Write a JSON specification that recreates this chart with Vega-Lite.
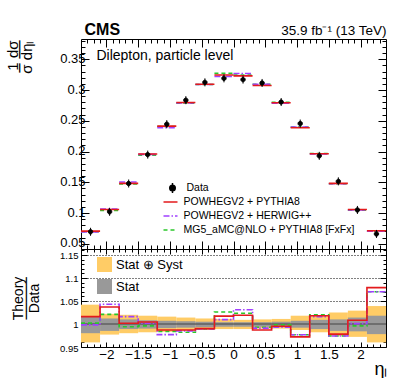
{
  "$schema": "https://vega.github.io/schema/vega-lite/v6.json",
  "padding": {"left": 5, "top": 21, "right": 0, "bottom": 0},
  "spacing": 0,
  "bounds": "flush",
  "config": {
    "font": "Liberation Sans",
    "view": {"stroke": null},
    "axis": {"domainColor": "black", "tickColor": "black", "labelColor": "black", "titleColor": "black", "grid": false, "titleFontWeight": "normal", "domainWidth": 1, "tickWidth": 1},
    "legend": {"labelColor": "black", "labelFont": "Liberation Sans"}
  },
  "datasets": {
    "bins": [
      {"lo": -2.4, "hi": -2.1, "c": -2.25, "d": 0.0695, "k": "Data"},
      {"lo": -2.1, "hi": -1.8, "c": -1.95, "d": 0.102, "k": "Data"},
      {"lo": -1.8, "hi": -1.5, "c": -1.65, "d": 0.148, "k": "Data"},
      {"lo": -1.5, "hi": -1.2, "c": -1.35, "d": 0.195, "k": "Data"},
      {"lo": -1.2, "hi": -0.9, "c": -1.05, "d": 0.2445, "k": "Data"},
      {"lo": -0.9, "hi": -0.6, "c": -0.75, "d": 0.2835, "k": "Data"},
      {"lo": -0.6, "hi": -0.3, "c": -0.45, "d": 0.3125, "k": "Data"},
      {"lo": -0.3, "hi": 0.0, "c": -0.15, "d": 0.319, "k": "Data"},
      {"lo": 0.0, "hi": 0.3, "c": 0.15, "d": 0.317, "k": "Data"},
      {"lo": 0.3, "hi": 0.6, "c": 0.45, "d": 0.3115, "k": "Data"},
      {"lo": 0.6, "hi": 0.9, "c": 0.75, "d": 0.2805, "k": "Data"},
      {"lo": 0.9, "hi": 1.2, "c": 1.05, "d": 0.2455, "k": "Data"},
      {"lo": 1.2, "hi": 1.5, "c": 1.35, "d": 0.193, "k": "Data"},
      {"lo": 1.5, "hi": 1.8, "c": 1.65, "d": 0.1515, "k": "Data"},
      {"lo": 1.8, "hi": 2.1, "c": 1.95, "d": 0.105, "k": "Data"},
      {"lo": 2.1, "hi": 2.4, "c": 2.25, "d": 0.066, "k": "Data"}
    ],
    "bands": [
      {"lo": -2.4, "hi": -2.1, "band": "Stat ⊕ Syst", "bl": 0.960, "bu": 1.042},
      {"lo": -2.1, "hi": -1.8, "band": "Stat ⊕ Syst", "bl": 0.977, "bu": 1.022},
      {"lo": -1.8, "hi": -1.5, "band": "Stat ⊕ Syst", "bl": 0.980, "bu": 1.020},
      {"lo": -1.5, "hi": -1.2, "band": "Stat ⊕ Syst", "bl": 0.982, "bu": 1.018},
      {"lo": -1.2, "hi": -0.9, "band": "Stat ⊕ Syst", "bl": 0.983, "bu": 1.016},
      {"lo": -0.9, "hi": -0.6, "band": "Stat ⊕ Syst", "bl": 0.985, "bu": 1.014},
      {"lo": -0.6, "hi": -0.3, "band": "Stat ⊕ Syst", "bl": 0.987, "bu": 1.012},
      {"lo": -0.3, "hi": 0.0, "band": "Stat ⊕ Syst", "bl": 0.989, "bu": 1.011},
      {"lo": 0.0, "hi": 0.3, "band": "Stat ⊕ Syst", "bl": 0.989, "bu": 1.009},
      {"lo": 0.3, "hi": 0.6, "band": "Stat ⊕ Syst", "bl": 0.990, "bu": 1.010},
      {"lo": 0.6, "hi": 0.9, "band": "Stat ⊕ Syst", "bl": 0.990, "bu": 1.011},
      {"lo": 0.9, "hi": 1.2, "band": "Stat ⊕ Syst", "bl": 0.987, "bu": 1.018},
      {"lo": 1.2, "hi": 1.5, "band": "Stat ⊕ Syst", "bl": 0.982, "bu": 1.019},
      {"lo": 1.5, "hi": 1.8, "band": "Stat ⊕ Syst", "bl": 0.974, "bu": 1.025},
      {"lo": 1.8, "hi": 2.1, "band": "Stat ⊕ Syst", "bl": 0.972, "bu": 1.029},
      {"lo": 2.1, "hi": 2.4, "band": "Stat ⊕ Syst", "bl": 0.960, "bu": 1.039},
      {"lo": -2.4, "hi": -2.1, "band": "Stat", "bl": 0.980, "bu": 1.017},
      {"lo": -2.1, "hi": -1.8, "band": "Stat", "bl": 0.985, "bu": 1.012},
      {"lo": -1.8, "hi": -1.5, "band": "Stat", "bl": 0.989, "bu": 1.010},
      {"lo": -1.5, "hi": -1.2, "band": "Stat", "bl": 0.990, "bu": 1.008},
      {"lo": -1.2, "hi": -0.9, "band": "Stat", "bl": 0.991, "bu": 1.007},
      {"lo": -0.9, "hi": -0.6, "band": "Stat", "bl": 0.992, "bu": 1.006},
      {"lo": -0.6, "hi": -0.3, "band": "Stat", "bl": 0.993, "bu": 1.005},
      {"lo": -0.3, "hi": 0.0, "band": "Stat", "bl": 0.994, "bu": 1.004},
      {"lo": 0.0, "hi": 0.3, "band": "Stat", "bl": 0.994, "bu": 1.004},
      {"lo": 0.3, "hi": 0.6, "band": "Stat", "bl": 0.994, "bu": 1.004},
      {"lo": 0.6, "hi": 0.9, "band": "Stat", "bl": 0.994, "bu": 1.005},
      {"lo": 0.9, "hi": 1.2, "band": "Stat", "bl": 0.992, "bu": 1.007},
      {"lo": 1.2, "hi": 1.5, "band": "Stat", "bl": 0.989, "bu": 1.009},
      {"lo": 1.5, "hi": 1.8, "band": "Stat", "bl": 0.985, "bu": 1.010},
      {"lo": 1.8, "hi": 2.1, "band": "Stat", "bl": 0.984, "bu": 1.014},
      {"lo": 2.1, "hi": 2.4, "band": "Stat", "bl": 0.978, "bu": 1.018}
    ],
    "theory": [
      {"lo": -2.4, "hi": -2.1, "m": "MG5_aMC@NLO + PYTHIA8 [FxFx]", "v": 0.0696, "r": 1.002},
      {"lo": -2.1, "hi": -1.8, "m": "MG5_aMC@NLO + PYTHIA8 [FxFx]", "v": 0.1041, "r": 1.021},
      {"lo": -1.8, "hi": -1.5, "m": "MG5_aMC@NLO + PYTHIA8 [FxFx]", "v": 0.1471, "r": 0.994},
      {"lo": -1.5, "hi": -1.2, "m": "MG5_aMC@NLO + PYTHIA8 [FxFx]", "v": 0.1942, "r": 0.996},
      {"lo": -1.2, "hi": -0.9, "m": "MG5_aMC@NLO + PYTHIA8 [FxFx]", "v": 0.2406, "r": 0.984},
      {"lo": -0.9, "hi": -0.6, "m": "MG5_aMC@NLO + PYTHIA8 [FxFx]", "v": 0.2784, "r": 0.982},
      {"lo": -0.6, "hi": -0.3, "m": "MG5_aMC@NLO + PYTHIA8 [FxFx]", "v": 0.3091, "r": 0.989},
      {"lo": -0.3, "hi": 0.0, "m": "MG5_aMC@NLO + PYTHIA8 [FxFx]", "v": 0.3273, "r": 1.026},
      {"lo": 0.0, "hi": 0.3, "m": "MG5_aMC@NLO + PYTHIA8 [FxFx]", "v": 0.3244, "r": 1.0235},
      {"lo": 0.3, "hi": 0.6, "m": "MG5_aMC@NLO + PYTHIA8 [FxFx]", "v": 0.3093, "r": 0.993},
      {"lo": 0.6, "hi": 0.9, "m": "MG5_aMC@NLO + PYTHIA8 [FxFx]", "v": 0.2799, "r": 0.998},
      {"lo": 0.9, "hi": 1.2, "m": "MG5_aMC@NLO + PYTHIA8 [FxFx]", "v": 0.2397, "r": 0.9765},
      {"lo": 1.2, "hi": 1.5, "m": "MG5_aMC@NLO + PYTHIA8 [FxFx]", "v": 0.1969, "r": 1.020},
      {"lo": 1.5, "hi": 1.8, "m": "MG5_aMC@NLO + PYTHIA8 [FxFx]", "v": 0.1476, "r": 0.974},
      {"lo": 1.8, "hi": 2.1, "m": "MG5_aMC@NLO + PYTHIA8 [FxFx]", "v": 0.1046, "r": 0.996},
      {"lo": 2.1, "hi": 2.4, "m": "MG5_aMC@NLO + PYTHIA8 [FxFx]", "v": 0.0706, "r": 1.070},
      {"lo": 2.4, "hi": 2.4, "m": "MG5_aMC@NLO + PYTHIA8 [FxFx]", "v": 0.0706, "r": 1.070},
      {"lo": -2.4, "hi": -2.1, "m": "POWHEGV2 + HERWIG++", "v": 0.0694, "r": 0.998},
      {"lo": -2.1, "hi": -1.8, "m": "POWHEGV2 + HERWIG++", "v": 0.1064, "r": 1.043},
      {"lo": -1.8, "hi": -1.5, "m": "POWHEGV2 + HERWIG++", "v": 0.1504, "r": 1.016},
      {"lo": -1.5, "hi": -1.2, "m": "POWHEGV2 + HERWIG++", "v": 0.1953, "r": 1.0015},
      {"lo": -1.2, "hi": -0.9, "m": "POWHEGV2 + HERWIG++", "v": 0.2389, "r": 0.977},
      {"lo": -0.9, "hi": -0.6, "m": "POWHEGV2 + HERWIG++", "v": 0.2792, "r": 0.985},
      {"lo": -0.6, "hi": -0.3, "m": "POWHEGV2 + HERWIG++", "v": 0.3091, "r": 0.989},
      {"lo": -0.3, "hi": 0.0, "m": "POWHEGV2 + HERWIG++", "v": 0.3221, "r": 1.0096},
      {"lo": 0.0, "hi": 0.3, "m": "POWHEGV2 + HERWIG++", "v": 0.3268, "r": 1.031},
      {"lo": 0.3, "hi": 0.6, "m": "POWHEGV2 + HERWIG++", "v": 0.3093, "r": 0.991},
      {"lo": 0.6, "hi": 0.9, "m": "POWHEGV2 + HERWIG++", "v": 0.2788, "r": 0.993},
      {"lo": 0.9, "hi": 1.2, "m": "POWHEGV2 + HERWIG++", "v": 0.2397, "r": 0.9765},
      {"lo": 1.2, "hi": 1.5, "m": "POWHEGV2 + HERWIG++", "v": 0.1961, "r": 1.016},
      {"lo": 1.5, "hi": 1.8, "m": "POWHEGV2 + HERWIG++", "v": 0.1476, "r": 0.974},
      {"lo": 1.8, "hi": 2.1, "m": "POWHEGV2 + HERWIG++", "v": 0.1051, "r": 1.0007},
      {"lo": 2.1, "hi": 2.4, "m": "POWHEGV2 + HERWIG++", "v": 0.0706, "r": 1.070},
      {"lo": 2.4, "hi": 2.4, "m": "POWHEGV2 + HERWIG++", "v": 0.0706, "r": 1.070},
      {"lo": -2.4, "hi": -2.1, "m": "POWHEGV2 + PYTHIA8", "v": 0.0706, "r": 1.016},
      {"lo": -2.1, "hi": -1.8, "m": "POWHEGV2 + PYTHIA8", "v": 0.1058, "r": 1.037},
      {"lo": -1.8, "hi": -1.5, "m": "POWHEGV2 + PYTHIA8", "v": 0.1482, "r": 1.0015},
      {"lo": -1.5, "hi": -1.2, "m": "POWHEGV2 + PYTHIA8", "v": 0.1959, "r": 1.0044},
      {"lo": -1.2, "hi": -0.9, "m": "POWHEGV2 + PYTHIA8", "v": 0.2413, "r": 0.987},
      {"lo": -0.9, "hi": -0.6, "m": "POWHEGV2 + PYTHIA8", "v": 0.2798, "r": 0.987},
      {"lo": -0.6, "hi": -0.3, "m": "POWHEGV2 + PYTHIA8", "v": 0.3094, "r": 0.990},
      {"lo": -0.3, "hi": 0.0, "m": "POWHEGV2 + PYTHIA8", "v": 0.3244, "r": 1.017},
      {"lo": 0.0, "hi": 0.3, "m": "POWHEGV2 + PYTHIA8", "v": 0.3230, "r": 1.019},
      {"lo": 0.3, "hi": 0.6, "m": "POWHEGV2 + PYTHIA8", "v": 0.3075, "r": 0.987},
      {"lo": 0.6, "hi": 0.9, "m": "POWHEGV2 + PYTHIA8", "v": 0.2794, "r": 0.995},
      {"lo": 0.9, "hi": 1.2, "m": "POWHEGV2 + PYTHIA8", "v": 0.2386, "r": 0.972},
      {"lo": 1.2, "hi": 1.5, "m": "POWHEGV2 + PYTHIA8", "v": 0.1965, "r": 1.018},
      {"lo": 1.5, "hi": 1.8, "m": "POWHEGV2 + PYTHIA8", "v": 0.1482, "r": 0.978},
      {"lo": 1.8, "hi": 2.1, "m": "POWHEGV2 + PYTHIA8", "v": 0.1058, "r": 1.008},
      {"lo": 2.1, "hi": 2.4, "m": "POWHEGV2 + PYTHIA8", "v": 0.0712, "r": 1.079},
      {"lo": 2.4, "hi": 2.4, "m": "POWHEGV2 + PYTHIA8", "v": 0.0712, "r": 1.079}
    ]
  },
  "vconcat": [
    {
      "width": 305,
      "height": 210,
      "resolve": {"axis": {"x": "independent", "y": "independent"}},
      "layer": [
        {
          "data": {"name": "theory"},
          "transform": [{"filter": "datum.lo < 2.4"}],
          "mark": {"type": "rule", "strokeWidth": 1.6},
          "encoding": {
            "x": {"field": "lo", "type": "quantitative", "scale": {"domain": [-2.4, 2.4], "nice": false, "zero": false},
                  "axis": {"orient": "bottom", "values": [-2, -1.5, -1, -0.5, 0, 0.5, 1, 1.5, 2], "labels": false, "tickSize": -8, "title": null}},
            "x2": {"field": "hi"},
            "y": {"field": "v", "type": "quantitative", "scale": {"domain": [0.0415, 0.383], "nice": false, "zero": false},
                  "axis": {"orient": "left", "values": [0.05, 0.1, 0.15, 0.2, 0.25, 0.3, 0.35], "format": "~g", "tickSize": -8, "labelPadding": 4, "labelFontSize": 13, "labelOffset": -1,
                           "title": "1  dσ", "titleFontSize": 15, "titleAngle": -90, "titleX": -63.4, "titleY": 1, "titleAlign": "right", "titleBaseline": "alphabetic"}},
            "stroke": {"field": "m", "type": "nominal",
                       "scale": {"domain": ["POWHEGV2 + PYTHIA8", "POWHEGV2 + HERWIG++", "MG5_aMC@NLO + PYTHIA8 [FxFx]"], "range": ["#e31a1c", "#a040ff", "#2ac72a"]},
                       "legend": {"orient": "none", "legendX": 81.5, "legendY": 155, "title": null, "symbolType": "stroke", "symbolSize": 196, "symbolStrokeWidth": 1.6, "labelFontSize": 10.5, "labelOffset": 5, "labelLimit": 300, "rowPadding": 0, "padding": 0}},
            "strokeDash": {"field": "m", "type": "nominal",
                           "scale": {"domain": ["POWHEGV2 + PYTHIA8", "POWHEGV2 + HERWIG++", "MG5_aMC@NLO + PYTHIA8 [FxFx]"], "range": [[1, 0], [6, 2, 1.5, 2], [4, 3]]},
                           "legend": {"orient": "none", "legendX": 81.5, "legendY": 155, "title": null, "symbolType": "stroke", "symbolSize": 196, "symbolStrokeWidth": 1.6, "labelFontSize": 10.5, "labelOffset": 5, "labelLimit": 300, "rowPadding": 0, "padding": 0}}
          }
        },
        {
          "data": {"name": "bins"},
          "mark": {"type": "point", "filled": true, "fill": "black", "stroke": "black", "strokeWidth": 1, "size": 64, "opacity": 1},
          "encoding": {
            "x": {"field": "c", "type": "quantitative", "scale": {"domain": [-2.4, 2.4], "nice": false, "zero": false},
                  "axis": {"orient": "bottom", "values": [-2.3, -2.2, -2.1, -1.9, -1.8, -1.7, -1.6, -1.4, -1.3, -1.2, -1.1, -0.9, -0.8, -0.7, -0.6, -0.4, -0.3, -0.2, -0.1, 0.1, 0.2, 0.3, 0.4, 0.6, 0.7, 0.8, 0.9, 1.1, 1.2, 1.3, 1.4, 1.6, 1.7, 1.8, 1.9, 2.1, 2.2, 2.3], "labels": false, "domain": false, "tickSize": -4, "title": null}},
            "y": {"field": "d", "type": "quantitative", "scale": {"domain": [0.0415, 0.383], "nice": false, "zero": false},
                  "axis": {"orient": "left", "values": [0.06, 0.07, 0.08, 0.09, 0.11, 0.12, 0.13, 0.14, 0.16, 0.17, 0.18, 0.19, 0.21, 0.22, 0.23, 0.24, 0.26, 0.27, 0.28, 0.29, 0.31, 0.32, 0.33, 0.34, 0.36, 0.37, 0.38], "labels": false, "domain": false, "tickSize": -4,
                           "title": "σ  dηₗ", "titleFontSize": 15, "titleAngle": -90, "titleX": -49.7, "titleY": 1, "titleAlign": "right", "titleBaseline": "alphabetic"}},
            "shape": {"field": "k", "type": "nominal",
                      "scale": {"domain": ["Data"], "range": ["M0.55,0C0.55,0.304,0.304,0.55,0,0.55C-0.304,0.55,-0.55,0.304,-0.55,0C-0.55,-0.304,-0.304,-0.55,0,-0.55C0.304,-0.55,0.55,-0.304,0.55,0ZM0,-1L0,1"]},
                      "legend": {"orient": "none", "legendX": 85.5, "legendY": 143, "title": null, "labelFontSize": 10.5, "labelOffset": 8, "padding": 0}}
          }
        },
        {
          "data": {"values": [{}]},
          "mark": {"type": "text", "align": "left", "baseline": "alphabetic", "fontSize": 14, "color": "black"},
          "encoding": {
            "x": {"datum": -2.157, "type": "quantitative", "scale": {"domain": [-2.4, 2.4], "nice": false, "zero": false}, "axis": null},
            "y": {"datum": 0.349, "type": "quantitative", "scale": {"domain": [0.0415, 0.383], "nice": false, "zero": false},
                  "axis": {"orient": "left", "ticks": false, "labels": false, "domain": false, "title": "─  ──", "titleFont": "DejaVu Sans", "titleFontSize": 15, "titleAngle": -90, "titleX": -57, "titleY": 1, "titleAlign": "right", "titleBaseline": "alphabetic"}},
            "text": {"value": "Dilepton, particle level"}
          }
        },
        {
          "data": {"name": "bins"},
          "mark": {"type": "point", "opacity": 0},
          "encoding": {
            "x": {"field": "c", "type": "quantitative", "scale": {"domain": [-2.4, 2.4], "nice": false, "zero": false},
                  "axis": {"orient": "top", "values": [-2, -1.5, -1, -0.5, 0, 0.5, 1, 1.5, 2], "labels": false, "tickSize": -8,
                           "title": "CMS", "titleFontSize": 16, "titleFontWeight": "bold", "titleX": 3, "titleY": -5, "titleAlign": "left", "titleBaseline": "alphabetic"}},
            "y": {"field": "d", "type": "quantitative", "scale": {"domain": [0.0415, 0.383], "nice": false, "zero": false},
                  "axis": {"orient": "right", "values": [0.05, 0.1, 0.15, 0.2, 0.25, 0.3, 0.35], "labels": false, "tickSize": -8, "title": null}}
          }
        },
        {
          "data": {"name": "bins"},
          "mark": {"type": "point", "opacity": 0},
          "encoding": {
            "x": {"field": "c", "type": "quantitative", "scale": {"domain": [-2.4, 2.4], "nice": false, "zero": false},
                  "axis": {"orient": "top", "values": [-2.3, -2.2, -2.1, -1.9, -1.8, -1.7, -1.6, -1.4, -1.3, -1.2, -1.1, -0.9, -0.8, -0.7, -0.6, -0.4, -0.3, -0.2, -0.1, 0.1, 0.2, 0.3, 0.4, 0.6, 0.7, 0.8, 0.9, 1.1, 1.2, 1.3, 1.4, 1.6, 1.7, 1.8, 1.9, 2.1, 2.2, 2.3], "labels": false, "domain": false, "tickSize": -4,
                           "title": "35.9 fb⁻¹ (13 TeV)", "titleFontSize": 13.5, "titleX": 305, "titleY": -5, "titleAlign": "right", "titleBaseline": "alphabetic"}},
            "y": {"field": "d", "type": "quantitative", "scale": {"domain": [0.0415, 0.383], "nice": false, "zero": false},
                  "axis": {"orient": "right", "values": [0.06, 0.07, 0.08, 0.09, 0.11, 0.12, 0.13, 0.14, 0.16, 0.17, 0.18, 0.19, 0.21, 0.22, 0.23, 0.24, 0.26, 0.27, 0.28, 0.29, 0.31, 0.32, 0.33, 0.34, 0.36, 0.37, 0.38], "labels": false, "domain": false, "tickSize": -4, "title": null}}
          }
        }
      ]
    },
    {
      "width": 305,
      "height": 98,
      "resolve": {"axis": {"x": "independent", "y": "independent"}},
      "layer": [
        {
          "data": {"name": "bands"},
          "mark": {"type": "rect", "strokeWidth": 0},
          "encoding": {
            "x": {"field": "lo", "type": "quantitative", "scale": {"domain": [-2.4, 2.4], "nice": false, "zero": false},
                  "axis": {"orient": "bottom", "values": [-2, -1.5, -1, -0.5, 0, 0.5, 1, 1.5, 2], "format": "~g", "labelFontSize": 13.5, "labelPadding": 5, "tickSize": -5,
                           "title": "ηₗ", "titleFontSize": 18, "titleX": 306, "titleY": 27, "titleAlign": "right", "titleBaseline": "alphabetic"}},
            "x2": {"field": "hi"},
            "y": {"field": "bl", "type": "quantitative", "scale": {"domain": [0.95, 1.163], "nice": false, "zero": false},
                  "axis": {"orient": "left", "values": [0.95, 1, 1.05, 1.1, 1.15], "format": "~g", "labelFontSize": 9.5, "labelPadding": 9, "labelOffset": 1, "tickSize": -6,
                           "grid": true, "gridDash": [1, 2], "gridColor": "black", "gridWidth": 1,
                           "title": "Theory", "titleFontSize": 14, "titleAngle": -90, "titleX": -58.2, "titleY": 49, "titleAlign": "center", "titleBaseline": "alphabetic"}},
            "y2": {"field": "bu"},
            "fill": {"field": "band", "type": "nominal",
                     "scale": {"domain": ["Stat ⊕ Syst", "Stat"], "range": ["#ffcc66", "#999999"]},
                     "legend": {"orient": "none", "legendX": 16, "legendY": 218, "title": null, "symbolType": "square", "symbolSize": 225, "symbolStrokeWidth": 0, "labelFontSize": 13, "labelOffset": 4, "rowPadding": 7, "padding": 0}}
          }
        },
        {
          "data": {"values": [{}]},
          "mark": {"type": "rule", "color": "#444444", "strokeWidth": 1.2},
          "encoding": {
            "y": {"datum": 1, "type": "quantitative", "scale": {"domain": [0.95, 1.163], "nice": false, "zero": false},
                  "axis": {"orient": "left", "ticks": false, "labels": false, "domain": false, "title": "─────", "titleFont": "DejaVu Sans", "titleFontSize": 14, "titleAngle": -90, "titleX": -50.4, "titleY": 49, "titleAlign": "center", "titleBaseline": "alphabetic"}}
          }
        },
        {
          "data": {"name": "theory"},
          "mark": {"type": "line", "interpolate": "step-after", "strokeWidth": 1.6},
          "encoding": {
            "x": {"field": "lo", "type": "quantitative", "scale": {"domain": [-2.4, 2.4], "nice": false, "zero": false},
                  "axis": {"orient": "bottom", "values": [-2.3, -2.2, -2.1, -1.9, -1.8, -1.7, -1.6, -1.4, -1.3, -1.2, -1.1, -0.9, -0.8, -0.7, -0.6, -0.4, -0.3, -0.2, -0.1, 0.1, 0.2, 0.3, 0.4, 0.6, 0.7, 0.8, 0.9, 1.1, 1.2, 1.3, 1.4, 1.6, 1.7, 1.8, 1.9, 2.1, 2.2, 2.3], "labels": false, "domain": false, "tickSize": -3, "title": null}},
            "y": {"field": "r", "type": "quantitative", "scale": {"domain": [0.95, 1.163], "nice": false, "zero": false},
                  "axis": {"orient": "left", "values": [0.96, 0.97, 0.98, 0.99, 1.01, 1.02, 1.03, 1.04, 1.06, 1.07, 1.08, 1.09, 1.11, 1.12, 1.13, 1.14, 1.16], "labels": false, "domain": false, "tickSize": -3,
                           "title": "Data", "titleFontSize": 14, "titleAngle": -90, "titleX": -42.7, "titleY": 49, "titleAlign": "center", "titleBaseline": "alphabetic"}},
            "stroke": {"field": "m", "type": "nominal",
                       "scale": {"domain": ["POWHEGV2 + PYTHIA8", "POWHEGV2 + HERWIG++", "MG5_aMC@NLO + PYTHIA8 [FxFx]"], "range": ["#e31a1c", "#a040ff", "#2ac72a"]}, "legend": null},
            "strokeDash": {"field": "m", "type": "nominal",
                           "scale": {"domain": ["POWHEGV2 + PYTHIA8", "POWHEGV2 + HERWIG++", "MG5_aMC@NLO + PYTHIA8 [FxFx]"], "range": [[1, 0], [6, 2, 1.5, 2], [4, 3]]}, "legend": null},
            "order": {"field": "lo", "type": "quantitative"}
          }
        },
        {
          "data": {"name": "bins"},
          "mark": {"type": "point", "opacity": 0},
          "encoding": {
            "x": {"field": "c", "type": "quantitative", "scale": {"domain": [-2.4, 2.4], "nice": false, "zero": false},
                  "axis": {"orient": "top", "values": [-2, -1.5, -1, -0.5, 0, 0.5, 1, 1.5, 2], "labels": false, "tickSize": -5, "title": null}},
            "y": {"datum": 1, "type": "quantitative", "scale": {"domain": [0.95, 1.163], "nice": false, "zero": false},
                  "axis": {"orient": "right", "values": [0.95, 1, 1.05, 1.1, 1.15], "labels": false, "tickSize": -6, "title": null}}
          }
        },
        {
          "data": {"name": "bins"},
          "mark": {"type": "point", "opacity": 0},
          "encoding": {
            "x": {"field": "c", "type": "quantitative", "scale": {"domain": [-2.4, 2.4], "nice": false, "zero": false},
                  "axis": {"orient": "top", "values": [-2.3, -2.2, -2.1, -1.9, -1.8, -1.7, -1.6, -1.4, -1.3, -1.2, -1.1, -0.9, -0.8, -0.7, -0.6, -0.4, -0.3, -0.2, -0.1, 0.1, 0.2, 0.3, 0.4, 0.6, 0.7, 0.8, 0.9, 1.1, 1.2, 1.3, 1.4, 1.6, 1.7, 1.8, 1.9, 2.1, 2.2, 2.3], "labels": false, "domain": false, "tickSize": -3, "title": null}},
            "y": {"datum": 1, "type": "quantitative", "scale": {"domain": [0.95, 1.163], "nice": false, "zero": false},
                  "axis": {"orient": "right", "values": [0.96, 0.97, 0.98, 0.99, 1.01, 1.02, 1.03, 1.04, 1.06, 1.07, 1.08, 1.09, 1.11, 1.12, 1.13, 1.14, 1.16], "labels": false, "domain": false, "tickSize": -3, "title": null}}
          }
        }
      ]
    }
  ]
}
